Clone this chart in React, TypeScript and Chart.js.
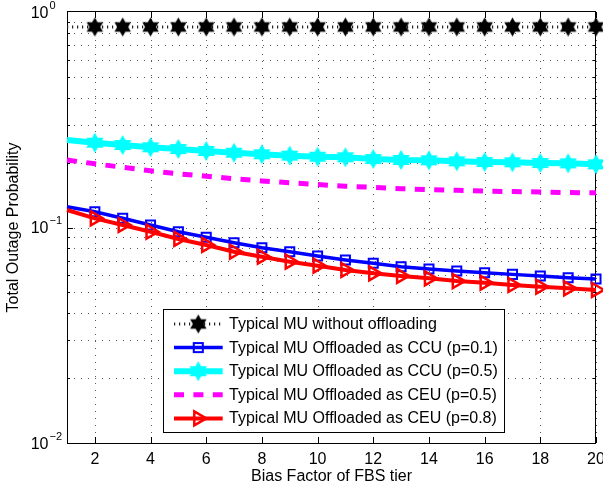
import React, { useEffect, useRef } from 'react';
import { Chart, registerables } from 'chart.js';

Chart.register(...registerables);

// ---------------- data ----------------
const biasFactors = [1, 2, 3, 4, 5, 6, 7, 8, 9, 10, 11, 12, 13, 14, 15, 16, 17, 18, 19, 20];
const noOffloading = [0.852, 0.852, 0.852, 0.852, 0.852, 0.852, 0.852, 0.852, 0.852, 0.852, 0.852, 0.852, 0.852, 0.852, 0.852, 0.852, 0.852, 0.852, 0.852, 0.852];
const ccuP01 = [0.1249, 0.1184, 0.1103, 0.1027, 0.0956, 0.0901, 0.085, 0.0806, 0.0772, 0.0737, 0.0707, 0.0682, 0.0658, 0.0642, 0.0628, 0.0617, 0.0606, 0.0596, 0.0585, 0.0577];
const ccuP05 = [0.2547, 0.2474, 0.2414, 0.2356, 0.2313, 0.2265, 0.2224, 0.2186, 0.2154, 0.2131, 0.2117, 0.2079, 0.2057, 0.205, 0.2028, 0.2013, 0.2007, 0.1992, 0.1985, 0.1964];
const ceuP05 = [0.2057, 0.1975, 0.1903, 0.1833, 0.1775, 0.173, 0.1683, 0.1644, 0.1612, 0.1583, 0.1554, 0.1535, 0.1514, 0.1499, 0.1488, 0.1475, 0.1468, 0.1461, 0.1453, 0.1449];
const ceuP08 = [0.1206, 0.1103, 0.1027, 0.0956, 0.0885, 0.083, 0.0772, 0.0732, 0.0694, 0.0665, 0.0635, 0.0613, 0.0596, 0.0581, 0.0564, 0.0554, 0.0541, 0.0531, 0.0522, 0.0513];

const legendLabels = [
  'Typical MU without offloading',
  'Typical MU Offloaded as CCU (p=0.1)',
  'Typical MU Offloaded as CCU (p=0.5)',
  'Typical MU Offloaded as CEU (p=0.5)',
  'Typical MU Offloaded as CEU (p=0.8)',
];
const xTickValues = [2, 4, 6, 8, 10, 12, 14, 16, 18, 20];
const yTickExponents = [-2, -1, 0];
const xAxisTitle = 'Bias Factor of FBS tier';
const yAxisTitle = 'Total Outage Probability';

const FONT = '"Liberation Sans", Arial, Helvetica, sans-serif';

function makeHexagram(R: number, fill: string) {
  const size = Math.ceil(2 * R + 2);
  const c = document.createElement('canvas');
  c.width = size;
  c.height = size;
  const g = c.getContext('2d')!;
  const cx = size / 2;
  const cy = size / 2;
  const r = R / Math.sqrt(3);
  g.beginPath();
  for (let k = 0; k < 12; k++) {
    const ang = -Math.PI / 2 + (k * Math.PI) / 6;
    const rr = k % 2 === 0 ? R : r;
    const px = cx + rr * Math.cos(ang);
    const py = cy + rr * Math.sin(ang);
    if (k === 0) g.moveTo(px, py);
    else g.lineTo(px, py);
  }
  g.closePath();
  g.fillStyle = fill;
  g.fill();
  return c;
}

const framePlugin = {
  id: 'matlabFrame',
  beforeDatasetsDraw(chart: any) {
    const { ctx, chartArea: a, scales } = chart;
    const x = scales.x;
    const y = scales.y;
    ctx.save();
    // dotted grid
    ctx.lineWidth = 1;
    ctx.strokeStyle = 'rgba(0,0,0,0.65)';
    ctx.setLineDash([1, 6]);
    ctx.beginPath();
    for (const v of xTickValues) {
      const px = Math.round(x.getPixelForValue(v)) + 0.5;
      ctx.moveTo(px, a.top);
      ctx.lineTo(px, a.bottom);
    }
    for (let i = 0; i < yTickExponents.length - 1; i++) {
      const e = yTickExponents[i];
      for (let m = 1; m <= 9; m++) {
        const py = Math.round(y.getPixelForValue(m * Math.pow(10, e))) + 0.5;
        ctx.moveTo(a.left, py);
        ctx.lineTo(a.right, py);
      }
    }
    ctx.stroke();
    ctx.setLineDash([]);
    // inward ticks
    ctx.strokeStyle = '#000';
    ctx.beginPath();
    for (const v of xTickValues) {
      const px = Math.round(x.getPixelForValue(v)) + 0.5;
      ctx.moveTo(px, a.bottom);
      ctx.lineTo(px, a.bottom - 6);
      ctx.moveTo(px, a.top);
      ctx.lineTo(px, a.top + 6);
    }
    for (let i = 0; i < yTickExponents.length - 1; i++) {
      const e = yTickExponents[i];
      for (let m = 1; m <= 9; m++) {
        const len = m === 1 ? 6 : 3;
        const py = Math.round(y.getPixelForValue(m * Math.pow(10, e))) + 0.5;
        ctx.moveTo(a.left, py);
        ctx.lineTo(a.left + len, py);
        ctx.moveTo(a.right, py);
        ctx.lineTo(a.right - len, py);
      }
    }
    ctx.stroke();
    // box
    const l = Math.round(x.getPixelForValue(biasFactors[0])) + 0.5;
    const r = Math.round(x.getPixelForValue(biasFactors[biasFactors.length - 1])) - 0.5;
    const t = Math.round(y.getPixelForValue(1)) - 0.5;
    const b = Math.round(y.getPixelForValue(0.01)) + 0.5;
    ctx.lineWidth = 1;
    ctx.strokeRect(l, t, r - l, b - t);
    ctx.restore();
  },
  afterDraw(chart: any) {
    const { ctx, scales } = chart;
    const x = scales.x;
    const y = scales.y;
    ctx.save();
    ctx.fillStyle = '#000';
    // x tick labels
    ctx.font = `16px ${FONT}`;
    ctx.textAlign = 'center';
    ctx.textBaseline = 'alphabetic';
    const xb = y.getPixelForValue(0.01);
    for (const v of xTickValues) {
      ctx.fillText(String(v), x.getPixelForValue(v), xb + 20.5);
    }
    // y tick labels with superscripts
    for (const e of yTickExponents) {
      const py = y.getPixelForValue(Math.pow(10, e));
      ctx.font = `16px ${FONT}`;
      ctx.textAlign = 'right';
      ctx.fillText('10', 48.5, py + 5.7);
      ctx.font = `11px ${FONT}`;
      ctx.textAlign = 'left';
      const ex = e === 0 ? '0' : '\u2212' + Math.abs(e);
      ctx.fillText(ex, 49.5, py - 3.3);
    }
    // legend
    const bx = 163.5, by = 309.5, bw = 341, bh = 123;
    ctx.fillStyle = '#fff';
    ctx.fillRect(bx, by, bw, bh);
    ctx.strokeStyle = '#000';
    ctx.lineWidth = 1;
    ctx.strokeRect(bx, by, bw, bh);
    const datasets = chart.data.datasets;
    for (let i = 0; i < datasets.length; i++) {
      const ds = datasets[i];
      const cy = 324 + i * 23.6;
      const x0 = 174, x1 = 222.7, xm = 198.3;
      ctx.save();
      ctx.strokeStyle = ds.borderColor;
      ctx.lineWidth = ds.borderWidth;
      ctx.setLineDash(ds.borderDash || []);
      ctx.beginPath();
      ctx.moveTo(x0, cy);
      ctx.lineTo(x1, cy);
      ctx.stroke();
      ctx.setLineDash([]);
      const st = ds.pointStyle;
      const rad = Array.isArray(ds.pointRadius) ? ds.pointRadius[1] : ds.pointRadius;
      if (st && typeof st === 'object') {
        ctx.drawImage(st, xm - st.width / 2, cy - st.height / 2);
      } else if (st === 'rect' && rad > 0) {
        const s = Math.SQRT1_2 * rad;
        ctx.strokeStyle = ds.pointBorderColor;
        ctx.lineWidth = ds.pointBorderWidth;
        ctx.strokeRect(xm - s, cy - s, 2 * s, 2 * s);
      } else if (st === 'triangle' && rad > 0) {
        ctx.strokeStyle = ds.pointBorderColor;
        ctx.lineWidth = ds.pointBorderWidth;
        ctx.beginPath();
        ctx.moveTo(xm + rad, cy);
        ctx.lineTo(xm - rad / 2, cy - rad * 0.866);
        ctx.lineTo(xm - rad / 2, cy + rad * 0.866);
        ctx.closePath();
        ctx.stroke();
      }
      ctx.restore();
      ctx.fillStyle = '#000';
      ctx.font = `16px ${FONT}`;
      ctx.textAlign = 'left';
      ctx.textBaseline = 'middle';
      ctx.fillText(legendLabels[i], 229, cy + 0.5);
    }
    ctx.restore();
  },
};

function radii(r: number) {
  return biasFactors.map((_, i) => (i === 0 ? 0 : r));
}

function pts(values: number[]) {
  return biasFactors.map((x, i) => ({ x, y: values[i] }));
}

export default function App() {
  const canvasRef = useRef<HTMLCanvasElement | null>(null);

  useEffect(() => {
    document.body.style.margin = '0';
    const canvas = canvasRef.current;
    if (!canvas) return;
    const hexBlack = makeHexagram(9.5, '#000000');
    const hexCyan = makeHexagram(10, '#00ffff');

    const chart = new Chart(canvas, {
      type: 'line',
      data: {
        datasets: [
          {
            label: legendLabels[0],
            data: pts(noOffloading),
            borderColor: '#222222',
            borderWidth: 3,
            borderDash: [1.2, 3.8],
            pointStyle: hexBlack as any,
            pointRadius: radii(9),
            pointHoverRadius: 0,
            order: 4,
            clip: false as any,
          },
          {
            label: legendLabels[1],
            data: pts(ccuP01),
            borderColor: '#0000ff',
            borderWidth: 3.5,
            pointStyle: 'rect',
            pointRadius: radii(6.4),
            pointHoverRadius: 0,
            pointBorderWidth: 2,
            pointBorderColor: '#0000ff',
            pointBackgroundColor: 'rgba(0,0,0,0)',
            order: 3,
            clip: false as any,
          },
          {
            label: legendLabels[2],
            data: pts(ccuP05),
            borderColor: '#00ffff',
            borderWidth: 6,
            pointStyle: hexCyan as any,
            pointRadius: radii(10),
            pointHoverRadius: 0,
            order: 2,
            clip: false as any,
          },
          {
            label: legendLabels[3],
            data: pts(ceuP05),
            borderColor: '#ff00ff',
            borderWidth: 5,
            borderDash: [10, 9.4],
            pointRadius: 0,
            pointHoverRadius: 0,
            order: 1,
            clip: false as any,
          },
          {
            label: legendLabels[4],
            data: pts(ceuP08),
            borderColor: '#ff0000',
            borderWidth: 4,
            pointStyle: 'triangle',
            pointRotation: 90,
            pointRadius: radii(8),
            pointHoverRadius: 0,
            pointBorderWidth: 2.5,
            pointBorderColor: '#ff0000',
            pointBackgroundColor: 'rgba(0,0,0,0)',
            order: 0,
            clip: false as any,
          },
        ] as any,
      },
      options: {
        responsive: false,
        animation: false,
        events: [],
        layout: { autoPadding: false, padding: { top: 12, right: 7, left: 0, bottom: 0 } },
        plugins: {
          legend: { display: false },
          tooltip: { enabled: false },
        },
        elements: { line: { tension: 0 } },
        scales: {
          x: {
            type: 'linear',
            min: 1,
            max: 20,
            grid: { display: false, drawTicks: false },
            border: { display: false },
            ticks: { display: false, stepSize: 2 },
            afterFit: (axis: any) => {
              axis.height = 47;
              axis.paddingLeft = 0;
              axis.paddingRight = 0;
            },
            title: {
              display: true,
              text: xAxisTitle,
              color: '#000',
              padding: { top: 0, bottom: 5 },
              font: { family: FONT, size: 16, lineHeight: 1 },
            },
          },
          y: {
            type: 'logarithmic',
            min: 0.01,
            max: 1,
            grid: { display: false, drawTicks: false },
            border: { display: false },
            ticks: { display: false },
            afterFit: (axis: any) => {
              axis.width = 67;
              axis.paddingTop = 0;
              axis.paddingBottom = 0;
            },
            title: {
              display: true,
              text: yAxisTitle,
              color: '#000',
              padding: { top: 6, bottom: 0 },
              font: { family: FONT, size: 16, lineHeight: 1 },
            },
          },
        },
      } as any,
      plugins: [framePlugin],
    });

    return () => {
      chart.destroy();
    };
  }, []);

  return (
    <div style={{ width: 603, height: 490, background: '#fff' }}>
      <canvas ref={canvasRef} width={603} height={490} style={{ display: 'block' }} />
    </div>
  );
}
